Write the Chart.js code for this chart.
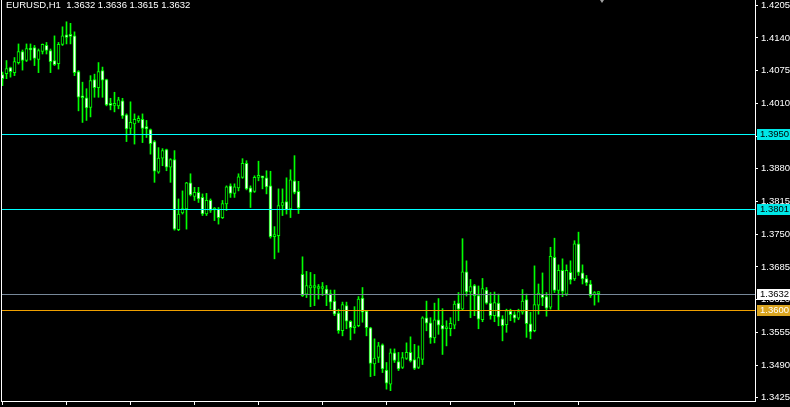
<!DOCTYPE html>
<html lang="en">
<head>
<meta charset="UTF-8">
<title>EURUSD,H1</title>
<script src="https://cdn.jsdelivr.net/npm/chart.js"></script>
<style>
    html, body { margin: 0; padding: 0; background: #000; }
    #chart { display: block; background: #000; }
</style>
</head>
<body>
<canvas id="chart" width="790" height="407"></canvas>
<script>
    // EURUSD H1 bars, oldest first
    const symbol = 'EURUSD,H1';
    const opens = [
        1.4067, 1.4069, 1.4081, 1.4071, 1.4091, 1.4113, 1.4095, 1.4120, 1.4121, 1.4097,
        1.4113, 1.4125, 1.4115, 1.4095, 1.4089, 1.4127, 1.4146, 1.4146, 1.4144, 1.4073,
        1.4023, 1.4021, 1.4002, 1.4057, 1.4041, 1.4075, 1.4057, 1.4007, 1.4006, 1.4005,
        1.4015, 1.3987, 1.3960, 1.3969, 1.3975, 1.3978, 1.3964, 1.3958, 1.3934, 1.3873,
        1.3901, 1.3918, 1.3883, 1.3898, 1.3759, 1.3792, 1.3800, 1.3852, 1.3825, 1.3833,
        1.3823, 1.3790, 1.3817, 1.3798, 1.3800, 1.3783, 1.3810, 1.3846, 1.3831, 1.3842,
        1.3863, 1.3891, 1.3842, 1.3835, 1.3863, 1.3863, 1.3862, 1.3846, 1.3745, 1.3747,
        1.3807, 1.3815, 1.3800, 1.3856, 1.3835, 1.3670, 1.3631, 1.3643, 1.3644, 1.3642,
        1.3642, 1.3641, 1.3632, 1.3617, 1.3593, 1.3558, 1.3608, 1.3577, 1.3564, 1.3568,
        1.3623, 1.3597, 1.3564, 1.3492, 1.3505, 1.3530, 1.3480, 1.3452, 1.3514, 1.3497,
        1.3485, 1.3503, 1.3515, 1.3501, 1.3485, 1.3501, 1.3584, 1.3574, 1.3544, 1.3580,
        1.3569, 1.3562, 1.3562, 1.3569, 1.3613, 1.3601, 1.3675, 1.3635, 1.3648, 1.3628,
        1.3580, 1.3639, 1.3613, 1.3588, 1.3613, 1.3582, 1.3570, 1.3597, 1.3590, 1.3583,
        1.3595, 1.3620, 1.3572, 1.3558, 1.3609, 1.3631, 1.3626, 1.3605, 1.3704, 1.3638,
        1.3678, 1.3631, 1.3674, 1.3661, 1.3731, 1.3673, 1.3662, 1.3651, 1.3630, 1.3632
    ];
    const highs = [
        1.4072, 1.4095, 1.4082, 1.4101, 1.4128, 1.4116, 1.4128, 1.4128, 1.4125, 1.4118,
        1.4128, 1.4131, 1.4118, 1.4144, 1.4131, 1.4162, 1.4172, 1.4169, 1.4152, 1.4075,
        1.4052, 1.4039, 1.4065, 1.4068, 1.4091, 1.4082, 1.4058, 1.4020, 1.4032, 1.4022,
        1.4020, 1.3989, 1.4013, 1.3989, 1.3985, 1.3989, 1.3976, 1.3959, 1.3936, 1.3922,
        1.3920, 1.3919, 1.3900, 1.3916, 1.3820, 1.3836, 1.3853, 1.3870, 1.3843, 1.3843,
        1.3830, 1.3831, 1.3820, 1.3803, 1.3803, 1.3817, 1.3846, 1.3850, 1.3850, 1.3870,
        1.3900, 1.3896, 1.3846, 1.3866, 1.3895, 1.3864, 1.3876, 1.3875, 1.3765, 1.3840,
        1.3840, 1.3862, 1.3878, 1.3906, 1.3855, 1.3705, 1.3676, 1.3674, 1.3670, 1.3650,
        1.3654, 1.3648, 1.3639, 1.3639, 1.3601, 1.3615, 1.3615, 1.3578, 1.3606, 1.3626,
        1.3644, 1.3598, 1.3565, 1.3542, 1.3535, 1.3532, 1.3495, 1.3522, 1.3522, 1.3515,
        1.3515, 1.3534, 1.3546, 1.3531, 1.3528, 1.3586, 1.3617, 1.3584, 1.3613, 1.3622,
        1.3602, 1.3578, 1.3584, 1.3617, 1.3634, 1.3741, 1.3697, 1.3660, 1.3650, 1.3647,
        1.3662, 1.3644, 1.3634, 1.3635, 1.3631, 1.3588, 1.3601, 1.3601, 1.3596, 1.3601,
        1.3640, 1.3631, 1.3595, 1.3687, 1.3651, 1.3673, 1.3634, 1.3724, 1.3742, 1.3689,
        1.3701, 1.3689, 1.3697, 1.3737, 1.3754, 1.3689, 1.3668, 1.3658, 1.3636, 1.3636
    ];
    const lows = [
        1.4045, 1.4059, 1.4062, 1.4065, 1.4088, 1.4076, 1.4093, 1.4096, 1.4085, 1.4071,
        1.4108, 1.4108, 1.4071, 1.4085, 1.4078, 1.4125, 1.4128, 1.4128, 1.4065, 1.3995,
        1.3972, 1.3976, 1.3983, 1.4022, 1.4022, 1.4022, 1.4005, 1.3997, 1.3993, 1.3999,
        1.3980, 1.3934, 1.3949, 1.3929, 1.3972, 1.3932, 1.3942, 1.3909, 1.3853, 1.3871,
        1.3886, 1.3876, 1.3853, 1.3758, 1.3757, 1.3790, 1.3760, 1.3826, 1.3817, 1.3813,
        1.3787, 1.3787, 1.3793, 1.3777, 1.3770, 1.3781, 1.3797, 1.3823, 1.3823, 1.3836,
        1.3861, 1.3838, 1.3803, 1.3833, 1.3856, 1.3840, 1.3830, 1.3742, 1.3701, 1.3714,
        1.3787, 1.3790, 1.3783, 1.3830, 1.3791, 1.3626, 1.3624, 1.3606, 1.3608, 1.3621,
        1.3628, 1.3608, 1.3601, 1.3588, 1.3553, 1.3548, 1.3562, 1.3540, 1.3553, 1.3566,
        1.3575, 1.3548, 1.3467, 1.3469, 1.3495, 1.3475, 1.3442, 1.3439, 1.3495, 1.3479,
        1.3483, 1.3501, 1.3496, 1.3481, 1.3483, 1.3491, 1.3558, 1.3533, 1.3534, 1.3551,
        1.3511, 1.3528, 1.3548, 1.3562, 1.3578, 1.3599, 1.3627, 1.3584, 1.3588, 1.3562,
        1.3576, 1.3611, 1.3581, 1.3576, 1.3568, 1.3538, 1.3555, 1.3578, 1.3575, 1.3580,
        1.3591, 1.3545, 1.3542, 1.3556, 1.3591, 1.3608, 1.3587, 1.3601, 1.3634, 1.3598,
        1.3626, 1.3628, 1.3651, 1.3658, 1.3668, 1.3651, 1.3648, 1.3624, 1.3609, 1.3615
    ];
    const closes = [
        1.4059, 1.4079, 1.4073, 1.4093, 1.4113, 1.4095, 1.4119, 1.4116, 1.4099, 1.4115,
        1.4127, 1.4115, 1.4093, 1.4087, 1.4127, 1.4144, 1.4141, 1.4143, 1.4071, 1.4022,
        1.4021, 1.4001, 1.4055, 1.4041, 1.4073, 1.4056, 1.4007, 1.4006, 1.4006, 1.4017,
        1.3985, 1.3959, 1.3972, 1.3978, 1.3980, 1.3960, 1.3959, 1.3930, 1.3875, 1.3901,
        1.3916, 1.3883, 1.3898, 1.3760, 1.3790, 1.3801, 1.3852, 1.3828, 1.3833, 1.3820,
        1.3790, 1.3817, 1.3797, 1.3799, 1.3783, 1.3811, 1.3844, 1.3831, 1.3844, 1.3864,
        1.3891, 1.3840, 1.3833, 1.3863, 1.3866, 1.3862, 1.3844, 1.3745, 1.3745, 1.3807,
        1.3813, 1.3798, 1.3858, 1.3833, 1.3802, 1.3628, 1.3648, 1.3648, 1.3645, 1.3642,
        1.3643, 1.3631, 1.3615, 1.3591, 1.3558, 1.3610, 1.3577, 1.3564, 1.3568, 1.3621,
        1.3595, 1.3564, 1.3493, 1.3504, 1.3528, 1.3482, 1.3454, 1.3514, 1.3499, 1.3482,
        1.3505, 1.3515, 1.3498, 1.3483, 1.3505, 1.3584, 1.3573, 1.3544, 1.3580, 1.3569,
        1.3561, 1.3562, 1.3573, 1.3611, 1.3601, 1.3675, 1.3635, 1.3646, 1.3628, 1.3581,
        1.3642, 1.3613, 1.3588, 1.3614, 1.3585, 1.3568, 1.3598, 1.3590, 1.3583, 1.3596,
        1.3617, 1.3572, 1.3556, 1.3610, 1.3633, 1.3624, 1.3603, 1.3706, 1.3638, 1.3678,
        1.3636, 1.3678, 1.3659, 1.3731, 1.3674, 1.3661, 1.3653, 1.3628, 1.3631, 1.3632
    ];

    // price scale labels on the right
    const priceTicks = [1.4205, 1.4140, 1.4075, 1.4010, 1.3945, 1.3880, 1.3815,
                        1.3750, 1.3685, 1.3620, 1.3555, 1.3490, 1.3425];
    // bars where the (hidden) time labels sit
    const timeTicks = [0, 16, 32, 48, 64, 80, 96, 112, 128, 144];
    // horizontal lines: two levels, bid, and one more level
    const levels = [1.3950, 1.3801, 1.3632, 1.3600];
    const levelStyles = [
        { line: '#00ffff', box: '#00e8e8', text: '#000' },
        { line: '#00ffff', box: '#00e8e8', text: '#000' },
        { line: '#778899', box: '#ffffff', text: '#000' },
        { line: '#f0a000', box: '#daa520', text: '#fff' }
    ];

    const GREEN = '#00ff00';
    const FONT = '"Liberation Sans", Arial, sans-serif';
    Chart.defaults.font.family = FONT;
    Chart.defaults.font.size = 9.5;
    Chart.defaults.color = '#ffffff';

    const wicks = highs.map((h, i) => ({ x: i, y: [lows[i], h] }));
    const bodies = opens.map((o, i) => ({ x: i, y: [o, closes[i]] }));
    const bodyFill = opens.map((o, i) => closes[i] < o ? '#ffffff' : '#000000');

    // lines, price boxes, symbol text, frame
    const mtOverlay = {
        id: 'mtOverlay',
        afterDatasetsDraw(chart) {
            const { ctx, chartArea: a, scales: { y } } = chart;
            ctx.save();
            levels.forEach((p, k) => {
                const py = Math.round(y.getPixelForValue(p));
                ctx.fillStyle = levelStyles[k].line;
                ctx.fillRect(a.left, py, a.right - a.left, 1);
            });
            ctx.restore();
        },
        afterDraw(chart) {
            const { ctx, chartArea: a, scales: { x, y } } = chart;
            ctx.save();
            ctx.font = '9.5px ' + FONT;
            ctx.textBaseline = 'middle';
            levels.forEach((p, k) => {
                const py = Math.round(y.getPixelForValue(p));
                ctx.fillStyle = levelStyles[k].box;
                ctx.fillRect(a.right + 2, py - 5, 790 - a.right - 2, 11);
                ctx.fillStyle = levelStyles[k].text;
                ctx.fillText(p.toFixed(4), a.right + 5, py + 0.5);
            });

            // left frame line
            ctx.fillStyle = '#ffffff';
            ctx.fillRect(1, 0, 1, a.bottom + 1);

            // symbol + last bar
            const n = closes.length - 1;
            const txt = symbol + '  ' + [opens[n], highs[n], lows[n], closes[n]].map(v => v.toFixed(4)).join(' ');
            ctx.fillText(txt, 6, 5);

            // chart shift marker
            const sx = Math.round(x.getPixelForValue(n + 0.75));
            ctx.fillStyle = '#a0a0a0';
            ctx.beginPath();
            ctx.moveTo(sx - 2, 0);
            ctx.lineTo(sx + 2, 0);
            ctx.lineTo(sx, 3);
            ctx.closePath();
            ctx.fill();
            ctx.restore();
        }
    };

    new Chart(document.getElementById('chart'), {
        type: 'bar',
        data: {
            datasets: [
                {
                    label: 'body',
                    data: bodies,
                    order: 0,
                    grouped: false,
                    barThickness: 3,
                    minBarLength: 2,
                    backgroundColor: bodyFill,
                    borderColor: GREEN,
                    borderWidth: 1,
                    borderSkipped: false
                },
                {
                    label: 'wick',
                    data: wicks,
                    order: 1,
                    grouped: false,
                    barThickness: 1,
                    backgroundColor: GREEN,
                    borderWidth: 0
                }
            ]
        },
        options: {
            responsive: false,
            animation: false,
            devicePixelRatio: 1,
            layout: { padding: { left: 2, top: 0, right: 0, bottom: 0 } },
            plugins: {
                legend: { display: false },
                tooltip: { enabled: false }
            },
            scales: {
                x: {
                    type: 'linear',
                    offset: false,
                    min: -0.125,
                    max: 188.125,
                    afterBuildTicks: s => { s.ticks = timeTicks.map(v => ({ value: v - 0.125 })); },
                    afterFit: s => { s.height = 6; s.paddingLeft = 0; s.paddingRight = 0; },
                    ticks: { display: false },
                    grid: { offset: false, drawOnChartArea: false, drawTicks: true, tickLength: 4, color: '#ffffff' },
                    border: { display: true, color: '#ffffff' }
                },
                y: {
                    type: 'linear',
                    position: 'right',
                    min: 1.34185,
                    max: 1.42153,
                    afterBuildTicks: s => { s.ticks = priceTicks.map(v => ({ value: v })); },
                    afterFit: s => { s.width = 35; s.paddingTop = 0; s.paddingBottom = 0; },
                    ticks: {
                        color: '#ffffff',
                        padding: 3,
                        callback: v => v.toFixed(4)
                    },
                    grid: { offset: false, drawOnChartArea: false, drawTicks: true, tickLength: 3, color: '#ffffff' },
                    border: { display: true, color: '#ffffff' }
                }
            }
        },
        plugins: [mtOverlay]
    });
</script>
</body>
</html>
